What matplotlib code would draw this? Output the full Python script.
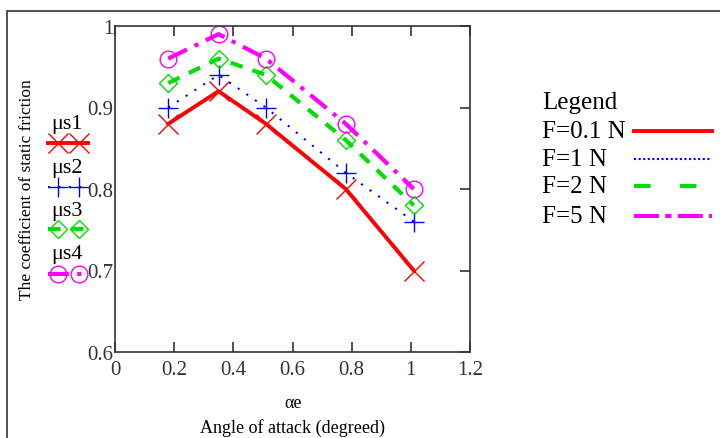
import numpy as np
import matplotlib.pyplot as plt
from matplotlib.lines import Line2D
from matplotlib.patches import Rectangle

plt.rcParams['font.family'] = ['Liberation Serif', 'DejaVu Serif']

# angle of attack (rad) and friction coefficients
alpha = [0.18, 0.35, 0.51, 0.78, 1.01]
mu_s1 = [0.88, 0.92, 0.88, 0.80, 0.70]
mu_s2 = [0.90, 0.94, 0.90, 0.82, 0.76]
mu_s3 = [0.93, 0.96, 0.94, 0.86, 0.78]
mu_s4 = [0.96, 0.99, 0.96, 0.88, 0.80]
series_names = ['μs1', 'μs2', 'μs3', 'μs4']
legend_labels = ['F=0.1 N', 'F=1 N', 'F=2 N', 'F=5 N']

styles = [
    dict(color='#ff0000', ls='-', lw=2.8, marker='x', ms=14, mew=1.0),
    dict(color='#0000ff', ls=(0, (1, 4)), lw=1.5, marker='+', ms=14, mew=1.0),
    dict(color='#00e000', ls=(0, (3, 2.5)), lw=3, marker='D', ms=9, mew=1.0, mfc='none'),
    dict(color='#ff00ff', ls=(0, (5, 2, 1, 2)), lw=3, marker='o', ms=12, mew=1.0, mfc='none'),
]
legend_ls = ['-', (0, (1, 1.2)), (0, (4, 7)), (0, (6, 1.5, 1.5, 1.5))]

W, H = 720, 439
fig = plt.figure(figsize=(W / 100, H / 100), dpi=100)

def fx(px):
    return px / W

def fy(py):
    return 1 - py / H

# outer frame
fig.patches.append(Rectangle((fx(7), -0.1), 1.2, fy(12) + 0.1, transform=fig.transFigure,
                             fill=False, ec='#333333', lw=1.2))

ax = fig.add_axes([fx(115), fy(353), fx(470) - fx(115), fy(27) - fy(353)])
for s, st in zip([mu_s1, mu_s2, mu_s3, mu_s4], styles):
    ax.plot(alpha, s, **st)

ax.set_xlim(0, 1.2)
ax.set_ylim(0.6, 1.0)
ax.set_xticks(np.arange(0, 1.21, 0.2))
ax.set_xticklabels(['0', '0.2', '0.4', '0.6', '0.8', '1', '1.2'])
ax.set_yticks([0.6, 0.7, 0.8, 0.9, 1.0])
ax.set_yticklabels(['0.6', '0.7', '0.8', '0.9', '1'])
ax.tick_params(direction='in', length=7, width=1.2, top=True, right=True, left=False,
               labelsize=15, colors='#333333')
ax.tick_params(axis='x', pad=6)
ax.tick_params(axis='y', pad=1)
for sp in ax.spines.values():
    sp.set_color('#333333')
    sp.set_linewidth(1.2)

fig.text(fx(293), fy(404), 'αe', ha='center', va='center', fontsize=13)
fig.text(fx(293), fy(428), 'Angle of attack (degreed)', ha='center', va='center', fontsize=13)
fig.text(fx(27), fy(190), 'The coefficient of static friction', rotation=90,
         ha='center', va='center', fontsize=12.5)

# left-side series keys
key_text_y = [125, 168, 212, 255]
key_line_y = [144, 188, 230, 275]
for name, st, ty, ly in zip(series_names, styles, key_text_y, key_line_y):
    fig.text(fx(51), fy(ty), name, ha='left', va='center', fontsize=16)
    fig.lines.append(Line2D([fx(48), fx(88)], [fy(ly), fy(ly)], transform=fig.transFigure,
                            color=st['color'], ls=st['ls'], lw=st['lw']))
    mk = {k: v for k, v in st.items() if k not in ('ls', 'lw')}
    fig.lines.append(Line2D([fx(58), fx(79)], [fy(ly), fy(ly)], transform=fig.transFigure,
                            ls='none', **mk))

# right-side legend
fig.text(fx(542), fy(103), 'Legend', ha='left', va='center', fontsize=18)
leg_y = [132, 160, 187, 217]
for lab, st, ls, y in zip(legend_labels, styles, legend_ls, leg_y):
    fig.text(fx(542), fy(y), lab, ha='left', va='center', fontsize=18)
    fig.lines.append(Line2D([fx(634), fx(712)], [fy(y), fy(y)], transform=fig.transFigure,
                            color=st['color'], ls=ls, lw=st['lw']))

plt.savefig('out.png', dpi=100)
